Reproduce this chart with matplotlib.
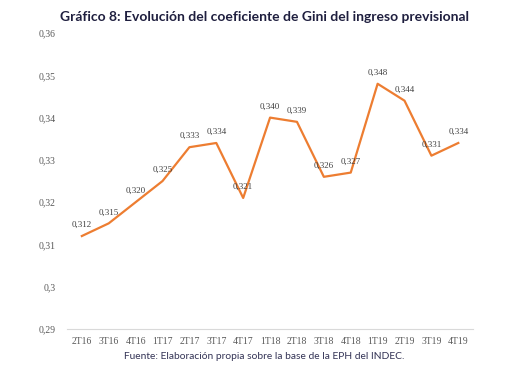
import matplotlib.pyplot as plt

# === Data ===
quarters = ["2T16", "3T16", "4T16", "1T17", "2T17", "3T17", "4T17", "1T18",
            "2T18", "3T18", "4T18", "1T19", "2T19", "3T19", "4T19"]
gini = [0.312, 0.315, 0.320, 0.325, 0.333, 0.334, 0.321, 0.340,
        0.339, 0.326, 0.327, 0.348, 0.344, 0.331, 0.334]
y_ticks = [0.29, 0.30, 0.31, 0.32, 0.33, 0.34, 0.35, 0.36]
y_tick_labels = ["0,29", "0,3", "0,31", "0,32", "0,33", "0,34", "0,35", "0,36"]

fig = plt.figure(figsize=(5.28, 3.71), dpi=100)
ax = fig.add_axes([0.127, 0.113, 0.769, 0.798])

x = list(range(len(quarters)))
ax.plot(x, gini, color="#ED7D31", linewidth=1.6)

for xi, v in zip(x, gini):
    ax.annotate(f"{v:.3f}".replace(".", ","), (xi, v), xytext=(0, 5),
                textcoords="offset points", ha="center", va="bottom",
                fontsize=6.5, family="Liberation Serif", color="#404040")

ax.set_xlim(-0.55, len(quarters) - 0.45)
ax.set_ylim(0.29, 0.36)
ax.set_yticks(y_ticks)
ax.set_yticklabels(y_tick_labels)
ax.set_xticks(x)
ax.set_xticklabels(quarters)

for lbl in ax.get_xticklabels() + ax.get_yticklabels():
    lbl.set_family("Liberation Serif")
    lbl.set_fontsize(7)
    lbl.set_color("#595959")

ax.tick_params(length=0, pad=6)
ax.tick_params(axis="y", pad=8)
for s in ["top", "right", "left"]:
    ax.spines[s].set_visible(False)
ax.spines["bottom"].set_color("#D9D9D9")

fig.text(0.5, 0.955, "Gráfico 8: Evolución del coeficiente de Gini del ingreso previsional",
         ha="center", va="center", fontsize=10, fontweight="bold",
         family="Lato", color="#1F1F3F")
fig.text(0.5, 0.038, "Fuente: Elaboración propia sobre la base de la EPH del INDEC.",
         ha="center", va="center", fontsize=7.4, family="Lato", color="#333355")

plt.savefig("out.png", dpi=100)
